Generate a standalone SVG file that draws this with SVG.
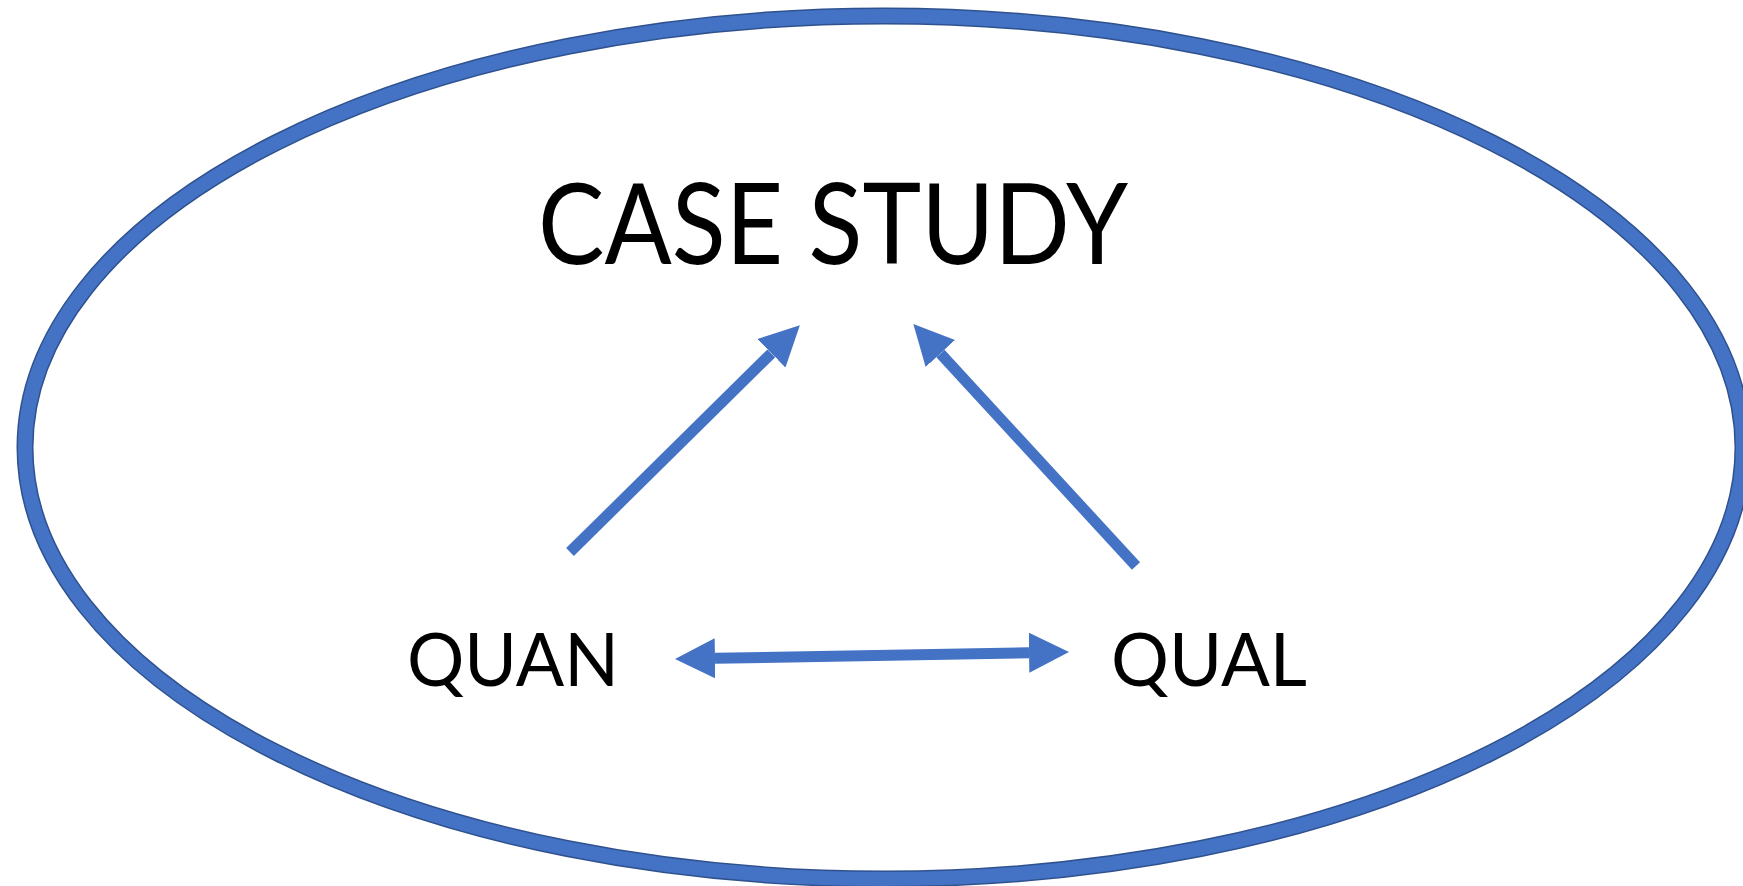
<svg xmlns="http://www.w3.org/2000/svg" width="1743" height="886" viewBox="0 0 1743 886">
  <style>
    .label { font-family: Lato, "Open Sans", "Liberation Sans", sans-serif; fill: #000000; }
    .conn { stroke: #4472C4; stroke-width: 11; fill: none; stroke-linecap: butt; }
  </style>
  <defs>
    <!-- triangular arrowhead; its base sits at the end of the line -->
    <marker id="head" markerUnits="userSpaceOnUse" markerWidth="40" markerHeight="40"
            viewBox="0 0 36 36" refX="0" refY="18" orient="auto-start-reverse">
      <path d="M0,0 L36,18 L0,36 Z" fill="#4472C4"/>
    </marker>
  </defs>

  <rect width="1743" height="886" fill="#ffffff"/>

  <!-- outer boundary ellipse -->
  <g id="boundary">
    <ellipse cx="884" cy="447.5" rx="859" ry="431.5" fill="none" stroke="#2F528F" stroke-width="17"/>
    <ellipse cx="884" cy="447.5" rx="859" ry="431.5" fill="none" stroke="#4472C4" stroke-width="14"/>
  </g>

  <g id="case-study">
    <text class="label" x="538" y="264" font-size="113" textLength="590" lengthAdjust="spacingAndGlyphs">CASE STUDY</text>
  </g>

  <g id="quan">
    <text class="label" x="407" y="686" font-size="74" textLength="212" lengthAdjust="spacingAndGlyphs">QUAN</text>
  </g>

  <g id="qual">
    <text class="label" x="1111" y="686" font-size="74" textLength="196" lengthAdjust="spacingAndGlyphs">QUAL</text>
  </g>

  <g id="connectors">
    <!-- QUAN to CASE STUDY -->
    <line class="conn" x1="570" y1="552" x2="771.4" y2="353.3" marker-end="url(#head)"/>
    <!-- QUAL to CASE STUDY -->
    <line class="conn" x1="1136" y1="566" x2="940.4" y2="353.5" marker-end="url(#head)"/>
    <!-- QUAN and QUAL, both directions -->
    <line class="conn" x1="715" y1="658.3" x2="1029" y2="652.7" marker-start="url(#head)" marker-end="url(#head)"/>
  </g>
</svg>
